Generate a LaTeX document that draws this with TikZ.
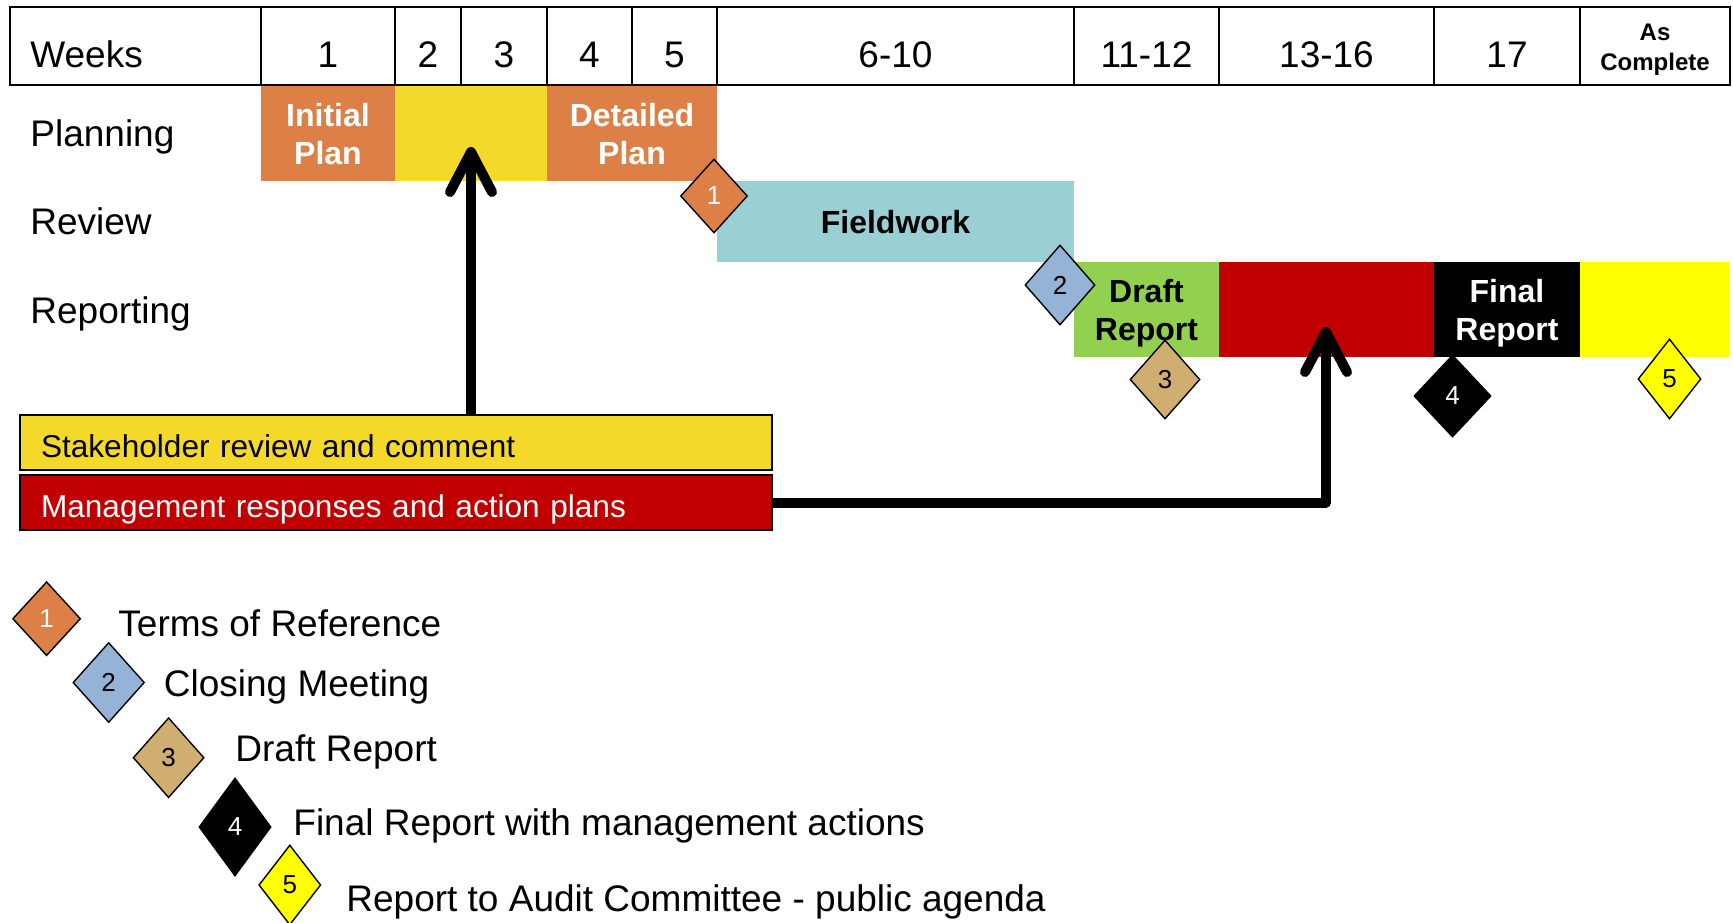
\documentclass[tikz,border=0pt]{standalone}
\usepackage{fontspec}
\setmainfont{Liberation Sans}
\usetikzlibrary{shapes.geometric,arrows.meta}

\definecolor{planorange}{HTML}{DD8048}
\definecolor{commentyellow}{HTML}{F5D92A}
\definecolor{fieldteal}{HTML}{9ACFD3}
\definecolor{draftgreen}{HTML}{92D050}
\definecolor{mgmtred}{HTML}{C00000}
\definecolor{pubyellow}{HTML}{FFFF00}
\definecolor{closeblue}{HTML}{95B3D7}
\definecolor{drafttan}{HTML}{D0AD70}

\begin{document}
\begin{tikzpicture}[x=0.5pt,y=-0.5pt,
  lab/.style={font=\fontsize{18.5}{22}\selectfont, inner sep=0pt},
  hdr/.style={lab, anchor=base},
  grid/.style={line width=1.2pt},
  bar/.style={anchor=north west, inner sep=0pt, outer sep=0pt, align=center,
    text depth=0pt, font=\bfseries\fontsize{16}{19}\selectfont},
  ms/.style={diamond, draw=black, line width=0.7pt, inner sep=0pt,
    font=\fontsize{13}{13}\selectfont},
  note/.style={anchor=north west, draw=black, line width=1pt, inner xsep=10.5pt,
    inner ysep=0pt, minimum height=27.5pt, text width=355pt, align=left,
    text height=15pt, text depth=0pt, font=\fontsize{15.8}{19}\selectfont},
  conn/.style={line width=5pt, line cap=butt, line join=round,
    -{Straight Barb[round,length=20pt,width=21pt]}}
]
\useasboundingbox (0,0) rectangle (1733,922);

% week header grid
\draw[grid] (10,7) rectangle (1730,85);
\foreach \x in {261,395,461,547,632,717,1074,1219,1434,1580}
  \draw[grid] (\x,7) -- (\x,85);
\node[hdr, anchor=base west] (hw) at (30,67) {Weeks};
\node[hdr] (h1) at (328,67) {1};
\node[hdr] (h2) at (428,67) {2};
\node[hdr] (h3) at (504,67) {3};
\node[hdr] (h4) at (589.5,67) {4};
\node[hdr] (h5) at (674.5,67) {5};
\node[hdr] (h6) at (895.5,67) {6-10};
\node[hdr] (h7) at (1146.5,67) {11-12};
\node[hdr] (h8) at (1326.5,67) {13-16};
\node[hdr] (h9) at (1507,67) {17};
\node[inner sep=0pt, align=center, font=\bfseries\fontsize{12}{15}\selectfont]
  (h10) at (1655,50) {As\\Complete};

% row labels
\node[lab, anchor=base west] (rplan) at (30,146.5) {Planning};
\node[lab, anchor=base west] (rrev) at (30,234) {Review};
\node[lab, anchor=base west] (rrep) at (30,323) {Reporting};

% phase bars
\node[bar, fill=planorange, text=white, minimum width=67pt, minimum height=47.5pt]
  (ip) at (261,86) {Initial\\Plan};
\node[bar, fill=commentyellow, minimum width=76pt, minimum height=47.5pt]
  (rv) at (395,86) {};
\node[bar, fill=planorange, text=white, minimum width=85pt, minimum height=47.5pt]
  (dp) at (547,86) {Detailed\\Plan};
\node[bar, fill=fieldteal, minimum width=178.5pt, minimum height=40.5pt]
  (fw) at (717,181) {Fieldwork};
\node[bar, fill=draftgreen, minimum width=72.5pt, minimum height=47.5pt]
  (dr) at (1074,262) {Draft\\Report};
\node[bar, fill=mgmtred, minimum width=107.5pt, minimum height=47.5pt]
  (mr) at (1219,262) {};
\node[bar, fill=black, text=white, minimum width=73pt, minimum height=47.5pt]
  (fr) at (1434,262) {Final\\Report};
\node[bar, fill=pubyellow, minimum width=75pt, minimum height=47.5pt]
  (ac) at (1580,262) {};

% milestones on the chart
\node[ms, fill=planorange, text=white, minimum width=33.5pt, minimum height=37pt]
  (m1) at (714,196) {1};
\node[ms, fill=closeblue, minimum width=35pt, minimum height=40pt]
  (m2) at (1060,285) {2};
\node[ms, fill=drafttan, minimum width=35pt, minimum height=39.5pt]
  (m3) at (1165,379.5) {3};
\node[ms, fill=black, text=white, minimum width=38.5pt, minimum height=41pt]
  (m4) at (1452.5,396) {4};
\node[ms, fill=pubyellow, minimum width=31.5pt, minimum height=40pt]
  (m5) at (1669.5,379) {5};

% feedback boxes
\node[note, fill=commentyellow] (sh) at (19,414) {Stakeholder review and comment};
\node[note, fill=mgmtred, text=white] (mg) at (19,474) {Management responses and action plans};

% feedback arrows
\coordinate (a1) at (471,147);
\coordinate (a2) at (1326,327);
\draw[conn] (sh.north -| a1) -- (a1);
\draw[conn] (mg.east) -| (a2);

% legend
\node[ms, fill=planorange, text=white, minimum width=34pt, minimum height=37pt]
  (l1) at (46.6,618.7) {1};
\node[ms, fill=closeblue, minimum width=35.75pt, minimum height=40pt]
  (l2) at (108.7,682.5) {2};
\node[ms, fill=drafttan, minimum width=35.5pt, minimum height=40pt]
  (l3) at (168.6,757.7) {3};
\node[ms, fill=black, text=white, minimum width=36pt, minimum height=49pt]
  (l4) at (235,827) {4};
\node[ms, fill=pubyellow, minimum width=31pt, minimum height=40pt]
  (l5) at (289.8,885) {5};
\node[lab, anchor=base west] (t1) at (118,636.5) {Terms of Reference};
\node[lab, anchor=base west] (t2) at (163.5,696.5) {Closing Meeting};
\node[lab, anchor=base west] (t3) at (235,761.5) {Draft Report};
\node[lab, anchor=base west] (t4) at (293,835.5) {Final Report with management actions};
\node[lab, anchor=base west] (t5) at (346,911.5) {Report to Audit Committee - public agenda};
\end{tikzpicture}
\end{document}
